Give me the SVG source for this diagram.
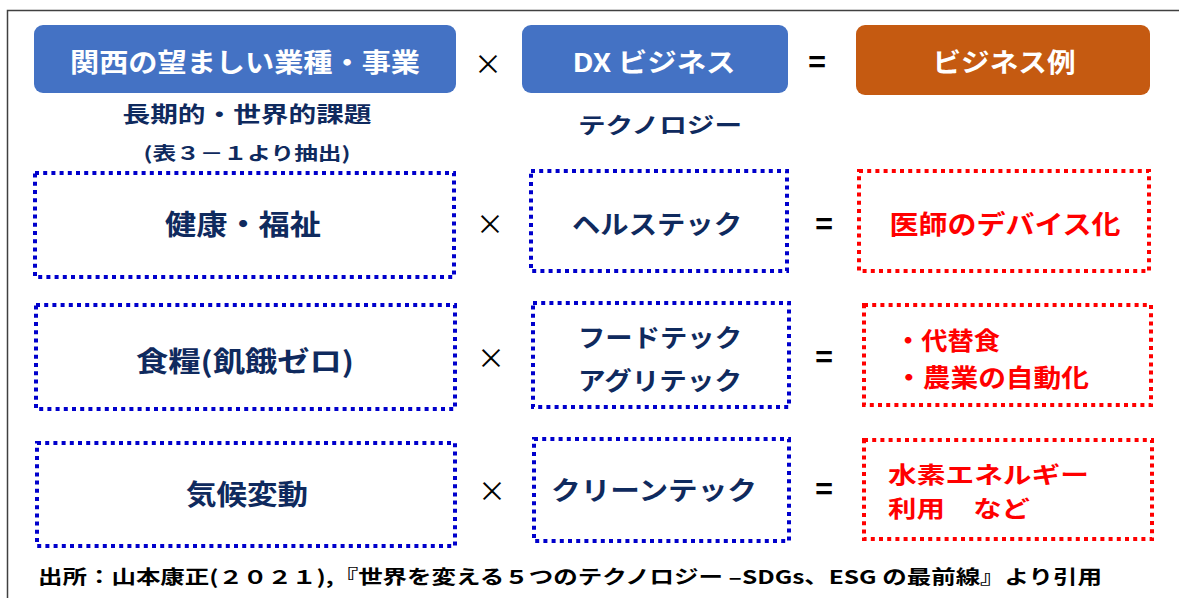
<svg xmlns="http://www.w3.org/2000/svg" width="1179" height="598" viewBox="0 0 1179 598">
<style>
text{font-family:"Noto Sans CJK JP","Noto Sans",sans-serif;font-weight:bold;dominant-baseline:central}
.hd{fill:#fff;font-size:26px;text-anchor:middle}
.nv{fill:#0F2A5E;font-size:26px}
.rd{fill:#FF0000;font-size:26px}
.op{fill:#000;font-size:28px;text-anchor:middle;font-weight:normal}
.eq{fill:#000;font-size:30px;text-anchor:middle}
.mid{text-anchor:middle}
.bb{fill:none;stroke:#0000CC;stroke-width:4;stroke-dasharray:4 4.2}
.rb{fill:none;stroke:#FF0000;stroke-width:4;stroke-dasharray:4 4.2}
</style>
<rect x="0" y="0" width="1179" height="598" fill="#fff"/>
<rect x="7.5" y="10.5" width="1190" height="600" fill="none" stroke="#404040" stroke-width="1.5"/>

<g id="header-industry">
<rect x="34" y="25" width="422" height="68" rx="9" fill="#4472C4"/>
<text class="hd" x="245" y="60" textLength="350" lengthAdjust="spacingAndGlyphs">関西の望ましい業種・事業</text>
<text class="nv mid" x="247" y="112" textLength="249" lengthAdjust="spacingAndGlyphs" style="font-size:22px">長期的・世界的課題</text>
<text class="nv mid" x="247" y="152" textLength="207" lengthAdjust="spacingAndGlyphs" style="font-size:18px">(表３－１より抽出)</text>
</g>
<g id="header-dx">
<rect x="522" y="25" width="266" height="68" rx="9" fill="#4472C4"/>
<text class="hd" x="654" y="60" textLength="163" lengthAdjust="spacingAndGlyphs">DX ビジネス</text>
<text class="nv mid" x="660" y="123" textLength="164" lengthAdjust="spacingAndGlyphs" style="font-size:22px">テクノロジー</text>
</g>
<g id="header-example">
<rect x="856" y="25" width="294" height="70" rx="9" fill="#C55A11"/>
<text class="hd" x="1004" y="60" textLength="143" lengthAdjust="spacingAndGlyphs">ビジネス例</text>
</g>

<g id="operators">
<text class="op" x="488" y="63">×</text>
<text class="eq" x="817" y="60">=</text>
<text class="op" x="490" y="223">×</text>
<text class="eq" x="824" y="222">=</text>
<text class="op" x="491" y="357">×</text>
<text class="eq" x="824" y="355">=</text>
<text class="op" x="492" y="490">×</text>
<text class="eq" x="824" y="487">=</text>
</g>

<g id="row1-issue">
<rect class="bb" x="35" y="173" width="419" height="104"/>
<text class="nv mid" x="243" y="223" textLength="156" lengthAdjust="spacingAndGlyphs" style="font-size:28px">健康・福祉</text>
</g>
<g id="row1-tech">
<rect class="bb" x="531" y="171" width="256" height="100"/>
<text class="nv mid" x="657" y="222" textLength="170" lengthAdjust="spacingAndGlyphs">ヘルステック</text>
</g>
<g id="row1-example">
<rect class="rb" x="859" y="171" width="290" height="100"/>
<text class="rd mid" x="1005" y="222" textLength="231" lengthAdjust="spacingAndGlyphs">医師のデバイス化</text>
</g>

<g id="row2-issue">
<rect class="bb" x="36" y="305" width="419" height="104"/>
<text class="nv mid" x="245" y="360" textLength="218" lengthAdjust="spacingAndGlyphs" style="font-size:28px">食糧(飢餓ゼロ)</text>
</g>
<g id="row2-tech">
<rect class="bb" x="533" y="303" width="256" height="104"/>
<text class="nv mid" x="660" y="336" textLength="164" lengthAdjust="spacingAndGlyphs" style="font-size:25px">フードテック</text>
<text class="nv mid" x="660" y="379" textLength="164" lengthAdjust="spacingAndGlyphs" style="font-size:25px">アグリテック</text>
</g>
<g id="row2-example">
<rect class="rb" x="864" y="305" width="287" height="100"/>
<text class="rd" x="895" y="339" textLength="105" lengthAdjust="spacingAndGlyphs" style="font-size:25px">・代替食</text>
<text class="rd" x="895" y="376" textLength="194" lengthAdjust="spacingAndGlyphs" style="font-size:25px">・農業の自動化</text>
</g>

<g id="row3-issue">
<rect class="bb" x="37" y="443" width="418" height="103"/>
<text class="nv mid" x="247" y="493" textLength="122" lengthAdjust="spacingAndGlyphs" style="font-size:28px">気候変動</text>
</g>
<g id="row3-tech">
<rect class="bb" x="534" y="439" width="255" height="102"/>
<text class="nv mid" x="654" y="488" textLength="206" lengthAdjust="spacingAndGlyphs">クリーンテック</text>
</g>
<g id="row3-example">
<rect class="rb" x="864" y="440" width="288" height="99"/>
<text class="rd" x="888" y="473" textLength="201" lengthAdjust="spacingAndGlyphs" style="font-size:23px">水素エネルギー</text>
<text class="rd" x="888" y="507" textLength="142" lengthAdjust="spacingAndGlyphs" style="font-size:23px">利用　など</text>
</g>

<g id="source">
<text x="38" y="575" fill="#000" style="font-size:19px" textLength="1064" lengthAdjust="spacingAndGlyphs">出所：山本康正(２０２１),『世界を変える５つのテクノロジー –SDGs、ESG の最前線』より引用</text>
</g>
</svg>
